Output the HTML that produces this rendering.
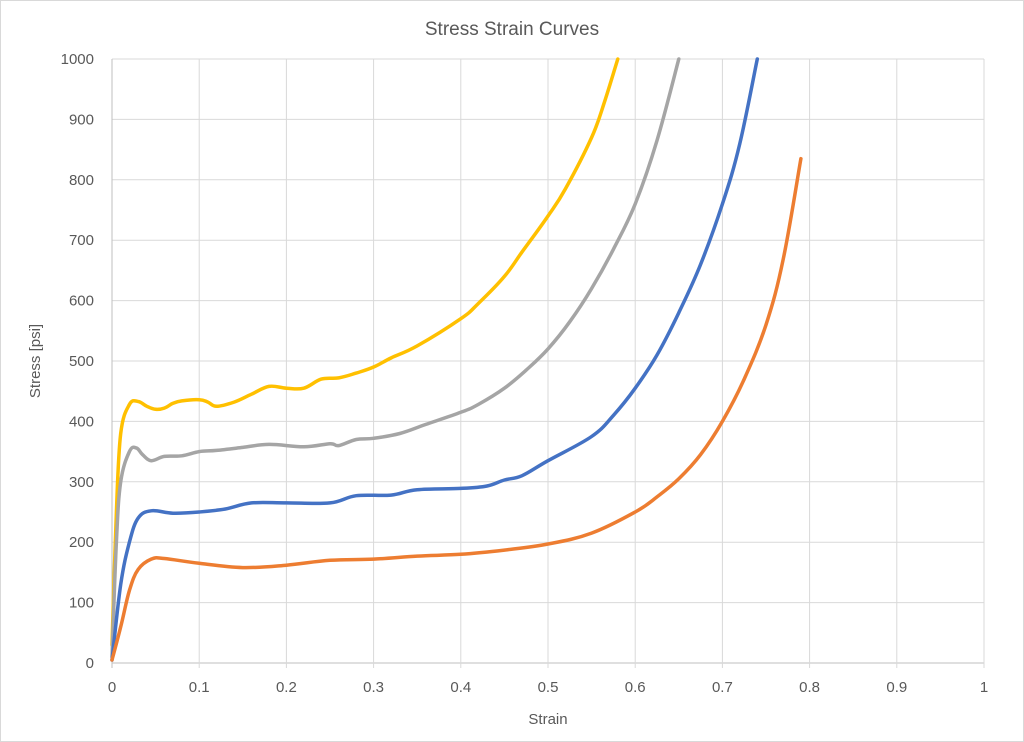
<!DOCTYPE html>
<html><head><meta charset="utf-8"><style>
html,body{margin:0;padding:0;background:#fff;}
svg{display:block;font-family:"Liberation Sans",sans-serif;}
</style></head><body>
<svg id="chart" width="1024" height="742">
<rect x="0.5" y="0.5" width="1023" height="741" fill="#fff" stroke="#d9d9d9"/>
<text x="512" y="35" text-anchor="middle" font-size="19" fill="#595959">Stress Strain Curves</text>
<g id="grid"></g><g id="axes"></g><g id="series"></g>
<text x="548" y="724" text-anchor="middle" font-size="15" fill="#595959">Strain</text>
<text transform="translate(40,361) rotate(-90)" text-anchor="middle" font-size="15" fill="#595959">Stress [psi]</text>
</svg>
<script>
const xTicks=[0,0.1,0.2,0.3,0.4,0.5,0.6,0.7,0.8,0.9,1];
const xTickLabels=["0","0.1","0.2","0.3","0.4","0.5","0.6","0.7","0.8","0.9","1"];
const yTicks=[0,100,200,300,400,500,600,700,800,900,1000];
const seriesNames=["yellow","gray","blue","orange"];
const seriesColors=["#FFC000","#A5A5A5","#4472C4","#ED7D31"];
const yellowStrain=[0,0.005,0.01,0.02,0.03,0.04,0.05,0.06,0.07,0.08,0.1,0.11,0.12,0.14,0.16,0.18,0.2,0.22,0.24,0.26,0.28,0.3,0.32,0.35,0.4,0.42,0.45,0.47,0.5,0.52,0.55,0.565,0.58];
const yellowStress=[30,250,380,428,433,425,420,422,430,434,436,432,425,432,445,458,455,455,470,472,480,490,505,525,570,595,640,680,740,785,870,930,1000];
const grayStrain=[0,0.005,0.01,0.02,0.028,0.035,0.045,0.06,0.08,0.1,0.12,0.15,0.18,0.22,0.25,0.26,0.28,0.3,0.33,0.36,0.4,0.42,0.45,0.475,0.5,0.525,0.55,0.575,0.6,0.625,0.65];
const grayStress=[10,200,300,350,356,345,335,342,343,350,352,357,362,358,363,360,370,372,380,395,415,428,455,485,520,565,620,685,760,865,1000];
const blueStrain=[0,0.01,0.02,0.03,0.045,0.07,0.1,0.13,0.16,0.2,0.25,0.28,0.32,0.35,0.4,0.43,0.45,0.47,0.5,0.55,0.575,0.6,0.625,0.65,0.675,0.7,0.72,0.74];
const blueStress=[5,130,200,240,252,248,250,255,265,265,265,277,278,287,289,293,303,310,335,375,410,455,510,580,660,760,860,1000];
const orangeStrain=[0,0.01,0.02,0.03,0.045,0.06,0.1,0.15,0.2,0.25,0.3,0.35,0.4,0.45,0.5,0.55,0.6,0.625,0.65,0.675,0.7,0.725,0.75,0.77,0.79];
const orangeStress=[5,60,120,155,172,173,165,158,162,170,172,177,180,187,197,215,250,275,305,345,400,470,560,670,835];

const X0=112,X1=984,Y0=663,Y1=59;
const xs=v=>X0+(X1-X0)*v;
const ys=v=>Y0-(Y0-Y1)*v/1000;
const NS="http://www.w3.org/2000/svg";
const grid=document.getElementById('grid'),axes=document.getElementById('axes'),ser=document.getElementById('series');
function mk(tag,attrs,parent){const e=document.createElementNS(NS,tag);for(const k in attrs)e.setAttribute(k,attrs[k]);parent.appendChild(e);return e;}
yTicks.forEach((t,i)=>{
 const l=mk('line',{x1:X0,x2:X1,y1:ys(t),y2:ys(t),stroke:t===0?'#bfbfbf':'#d9d9d9','stroke-width':1},grid);
 
 
 const tx=mk('text',{x:X0-18,y:ys(t)+5,'text-anchor':'end','font-size':15,fill:'#595959'},axes);
 tx.textContent=String(t);
 
 
});
xTicks.forEach((t,i)=>{
 const l=mk('line',{x1:xs(t),x2:xs(t),y1:Y1,y2:Y0+5,stroke:t===0?'#bfbfbf':'#d9d9d9','stroke-width':1},grid);
 
 
 const tx=mk('text',{x:xs(t),y:Y0+29,'text-anchor':'middle','font-size':15,fill:'#595959'},axes);
 tx.textContent=xTickLabels[i];
 
 
});
function smoothPath(P){
 let d='M'+P[0][0].toFixed(1)+','+P[0][1].toFixed(1);
 for(let i=0;i<P.length-1;i++){
  const p0=P[Math.max(0,i-1)],p1=P[i],p2=P[i+1],p3=P[Math.min(P.length-1,i+2)];
  const t=0.18;
  const c1=[p1[0]+(p2[0]-p0[0])*t,p1[1]+(p2[1]-p0[1])*t];
  const c2=[p2[0]-(p3[0]-p1[0])*t,p2[1]-(p3[1]-p1[1])*t];
  d+=' C'+c1[0].toFixed(1)+','+c1[1].toFixed(1)+' '+c2[0].toFixed(1)+','+c2[1].toFixed(1)+' '+p2[0].toFixed(1)+','+p2[1].toFixed(1);
 }
 return d;
}
const data=[[yellowStrain,yellowStress],[grayStrain,grayStress],[blueStrain,blueStress],[orangeStrain,orangeStress]];
data.forEach((d,i)=>{
 const P=d[0].map((x,j)=>[xs(x),ys(d[1][j])]);
 const p=mk('path',{d:smoothPath(P),fill:'none',stroke:seriesColors[i],'stroke-width':3.5,'stroke-linejoin':'round','stroke-linecap':'round'},ser);
 
 
});
</script>
</body></html>
